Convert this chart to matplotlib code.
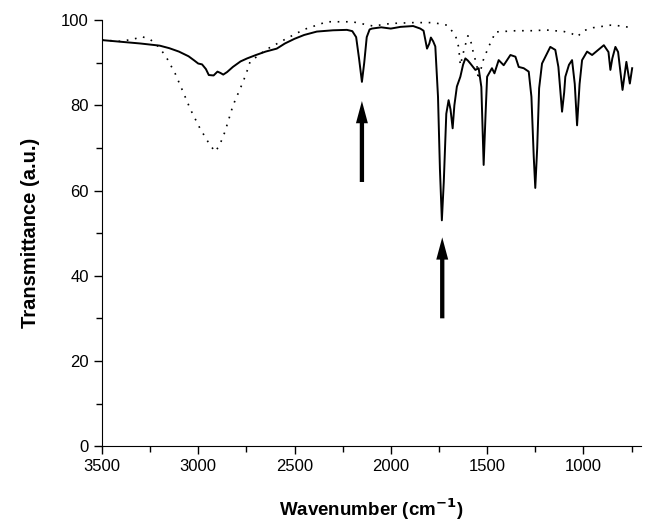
#!/usr/bin/env python3
import numpy as np
import matplotlib.pyplot as plt

plt.rcParams['font.family'] = ['Liberation Sans', 'DejaVu Sans']

# solid spectrum (wavenumber, transmittance)
wn_solid = [3500, 3400, 3300, 3200, 3150, 3100, 3050, 3020, 3000, 2980, 2960, 2945,
            2920, 2900, 2885, 2870, 2850, 2820, 2780, 2746, 2700, 2650, 2592, 2550,
            2500, 2450, 2384, 2300, 2228, 2200, 2180, 2165, 2150, 2138, 2125, 2110,
            2098, 2050, 2000, 1950, 1884, 1847, 1830, 1812, 1800, 1792, 1780, 1769,
            1755, 1745, 1735, 1725, 1712, 1700, 1690, 1679, 1670, 1657, 1639, 1625,
            1613, 1600, 1587, 1561, 1544, 1530, 1518, 1508, 1500, 1475, 1462, 1440,
            1414, 1379, 1353, 1336, 1310, 1284, 1270, 1258, 1250, 1240, 1230, 1215,
            1172, 1146, 1130, 1111, 1100, 1094, 1075, 1059, 1045, 1033, 1020, 1007,
            981, 955, 894, 870, 860, 850, 834, 820, 797, 777, 759, 747]
t_solid = [95.3, 94.9, 94.5, 94.0, 93.4, 92.6, 91.5, 90.5, 89.8, 89.6, 88.5, 87.1,
           87.0, 87.9, 87.6, 87.2, 87.8, 89.0, 90.3, 91.0, 91.8, 92.6, 93.3, 94.5,
           95.6, 96.5, 97.3, 97.6, 97.7, 97.4, 96.0, 91.0, 85.5, 90.0, 96.0, 97.8,
           98.0, 98.3, 98.0, 98.4, 98.6, 98.0, 97.5, 93.3, 94.5, 95.9, 95.0, 93.8,
           82.0, 65.0, 53.0, 62.0, 78.0, 81.2, 79.0, 74.6, 80.0, 84.4, 86.7, 89.5,
           91.0, 90.5, 89.8, 88.3, 88.7, 84.3, 66.0, 78.0, 86.7, 88.7, 87.5, 90.6,
           89.4, 91.8, 91.4, 89.0, 88.7, 87.9, 82.0, 68.0, 60.6, 70.0, 84.0, 89.8,
           93.7, 93.0, 89.0, 78.5, 83.0, 86.7, 89.5, 90.6, 85.0, 75.3, 85.0, 90.6,
           92.6, 91.8, 94.1, 92.5, 88.3, 91.0, 93.7, 92.5, 83.6, 90.2, 85.1, 88.7]

# dotted spectrum
wn_dot = [3500, 3400, 3330, 3292, 3250, 3200, 3162, 3120, 3079, 3040, 2991, 2950,
          2913, 2890, 2861, 2819, 2767, 2741, 2731, 2650, 2540, 2450, 2332, 2200,
          2092, 2000, 1884, 1780, 1708, 1665, 1648, 1639, 1620, 1600, 1590, 1570,
          1553, 1546, 1520, 1490, 1473, 1460, 1350, 1250, 1200, 1100, 1060, 1031,
          1000, 950, 860, 800, 740]
t_dot = [95.3, 95.0, 95.6, 96.1, 95.5, 93.5, 91.0, 87.5, 83.2, 79.0, 74.6, 71.5,
         69.1, 70.5, 73.8, 80.0, 85.5, 88.7, 90.2, 93.0, 95.7, 97.8, 99.6, 99.6,
         98.6, 99.2, 99.4, 99.4, 98.8, 96.5, 93.7, 89.4, 93.0, 96.3, 96.1, 92.0,
         89.4, 86.0, 90.6, 94.0, 95.3, 97.2, 97.5, 97.5, 97.7, 97.3, 96.8, 96.1,
         97.5, 98.2, 98.8, 98.6, 98.1]

# arrows: (wavenumber, tail, tip)
arrow_wn = [2150, 1733]
arrow_tail = [62.0, 30.0]
arrow_tip = [81.0, 49.0]


def main():
    fig = plt.figure(figsize=(6.49, 5.28), dpi=100)
    ax = fig.add_axes([0.157, 0.155, 0.831, 0.807])

    ax.plot(wn_solid, t_solid, color='black', linewidth=1.4)
    ax.plot(wn_dot, t_dot, color='black', linewidth=1.2, linestyle=(0, (1, 4)))

    for w, t0, t1 in zip(arrow_wn, arrow_tail, arrow_tip):
        ax.annotate('', xy=(w, t1), xytext=(w, t0),
                    arrowprops=dict(arrowstyle='simple,head_length=1.6,head_width=0.86,tail_width=0.31',
                                    mutation_scale=10, color='black', lw=0,
                                    shrinkA=0, shrinkB=0))

    ax.set_xlim(3500, 700)
    ax.set_ylim(0, 100)
    ax.set_xticks([3500, 3000, 2500, 2000, 1500, 1000])
    ax.set_xticks(np.arange(3250, 700, -500), minor=True)
    ax.set_yticks(np.arange(0, 101, 20))
    ax.set_yticks(np.arange(10, 100, 20), minor=True)
    ax.tick_params(which='major', direction='out', length=6, width=1, labelsize=12)
    ax.tick_params(which='minor', direction='out', length=4, width=1)

    for s in ['top', 'right']:
        ax.spines[s].set_visible(False)

    ax.set_xlabel('Wavenumber (cm$^{\\mathbf{-1}}$)', fontsize=13.5, fontweight='bold', labelpad=16)
    ax.set_ylabel('Transmittance (a.u.)', fontsize=14.5, fontweight='bold', labelpad=15)

    fig.savefig('out.png', dpi=100)


if __name__ == "__main__":
    main()
